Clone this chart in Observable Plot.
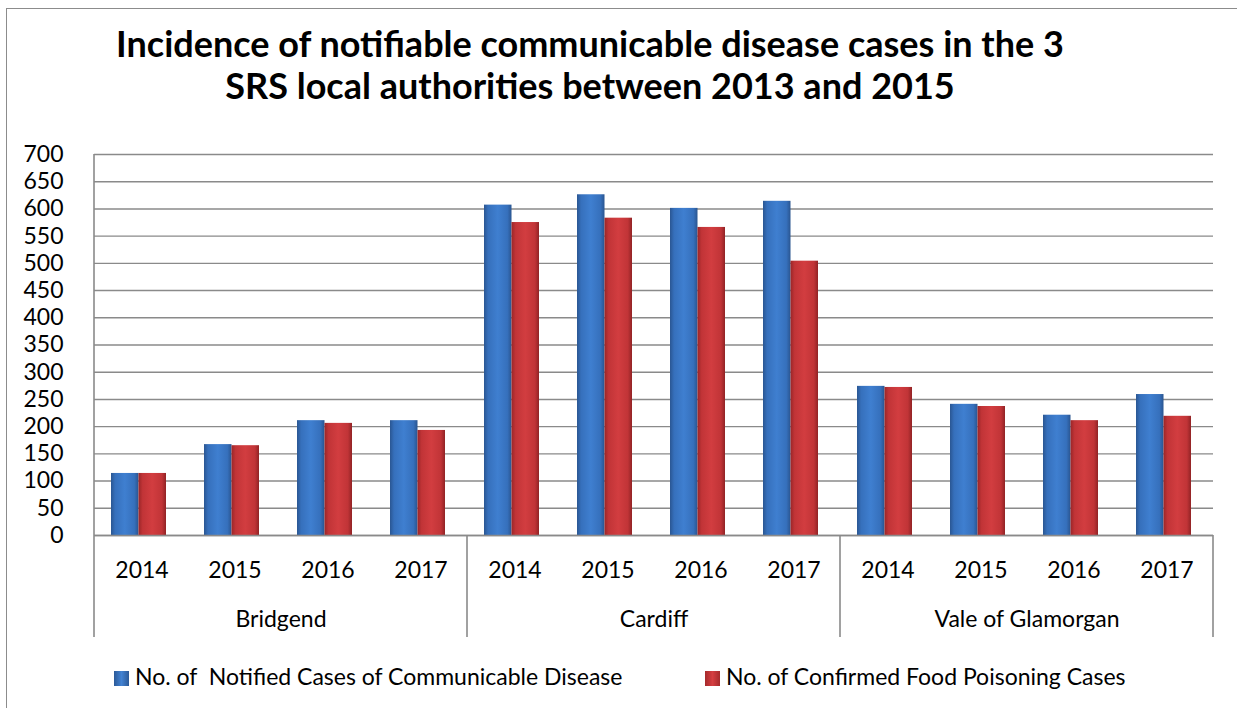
<!DOCTYPE html>
<html>
<head>
<meta charset="utf-8">
<script src="https://cdn.jsdelivr.net/npm/d3@7"></script>
<script src="https://cdn.jsdelivr.net/npm/@observablehq/plot@0.6"></script>
<style>
  body { margin: 0; background: #fff; font-family: Lato, "Open Sans", sans-serif; }
  #wrap { position: relative; width: 1237px; height: 708px; overflow: hidden; background: #fff; }
  #frame { position: absolute; left: 6px; top: 8px; width: 1300px; height: 800px; border: 1.5px solid #8c8c8c; }
  #title { position: absolute; left: 0; top: 22px; width: 1180px; text-align: center; font-weight: bold; font-size: 36px; line-height: 42px; color: #000; }
  #chart { position: absolute; left: 0; top: 140px; }
  .leg { position: absolute; top: 662px; font-size: 23px; line-height: 28px; color: #000; white-space: pre; }
  .sw { display: inline-block; width: 15px; height: 15px; margin-right: 6px; vertical-align: -1px; }
</style>
</head>
<body>
<div id="wrap">
  <div id="frame"></div>
  <div id="title">Incidence of notifiable communicable disease cases in the 3<br>SRS local authorities between 2013 and 2015</div>
  <div id="chart"></div>
  <div class="leg" style="left:114px"><span class="sw" style="background:linear-gradient(to right,#2c5a98,#4282d2 50%,#2c5a98)"></span>No. of  Notified Cases of Communicable Disease</div>
  <div class="leg" style="left:705px"><span class="sw" style="background:linear-gradient(to right,#a52a2c,#d53e41 50%,#a52a2c)"></span>No. of Confirmed Food Poisoning Cases</div>
</div>
<script>
const regions = ["Bridgend", "Cardiff", "Vale of Glamorgan"];
const years = ["2014", "2015", "2016", "2017"];
const seriesNames = ["No. of  Notified Cases of Communicable Disease", "No. of Confirmed Food Poisoning Cases"];
const notified = [114, 167, 211, 211, 607, 626, 601, 614, 274, 241, 221, 259];
const foodPoisoning = [114, 165, 206, 193, 575, 583, 566, 504, 272, 237, 211, 219];
const yTicks = [0, 50, 100, 150, 200, 250, 300, 350, 400, 450, 500, 550, 600, 650, 700];

const rows = [];
regions.forEach((r, i) => years.forEach((y, j) => {
  rows.push({region: r, year: y, series: seriesNames[0], value: notified[i * 4 + j]});
  rows.push({region: r, year: y, series: seriesNames[1], value: foodPoisoning[i * 4 + j]});
}));

const grid = "#8a8a8a";
const plot = Plot.plot({
  width: 1237,
  height: 505,
  marginTop: 14,
  marginBottom: 110,
  marginLeft: 93,
  marginRight: 24,
  fx: {domain: regions, padding: 0, label: null},
  x: {domain: years, paddingInner: 0.41, paddingOuter: 0.205, label: null},
  y: {domain: [0, 700], label: null},
  style: {fontFamily: "Lato, 'Open Sans', sans-serif", fontSize: "23px", color: "#000", background: "transparent"},
  marks: [
    Plot.gridY(yTicks, {stroke: grid, strokeOpacity: 1, strokeWidth: 1.4}),
    Plot.axisY(yTicks, {tickSize: 0, tickPadding: 31, fontSize: 23, fill: "#000"}),
    Plot.axisX({tickSize: 0, tickPadding: 26, fontSize: 23, fill: "#000"}),
    Plot.axisFx({anchor: "bottom", tickSize: 0, tickPadding: 75, fontSize: 23, fill: "#000"}),
    Plot.barY(rows.filter(d => d.series === seriesNames[0]), {fx: "region", x: "year", y: "value", fill: "url(#gBlue)", insetLeft: -3, insetRight: 30.5}),
    Plot.barY(rows.filter(d => d.series === seriesNames[1]), {fx: "region", x: "year", y: "value", fill: "url(#gRed)", insetLeft: 24.5, insetRight: 3}),
    Plot.ruleY([0], {stroke: grid, strokeWidth: 1.6})
  ]
});

const svg = d3.select(plot);
svg.insert("defs", ":first-child").html(`
  <linearGradient id="gBlue" x1="0" x2="1" y1="0" y2="0">
    <stop offset="0" stop-color="#2a5692"/>
    <stop offset="0.15" stop-color="#3670bc"/>
    <stop offset="0.5" stop-color="#3f7fd0"/>
    <stop offset="0.85" stop-color="#3670bc"/>
    <stop offset="1" stop-color="#2a5590"/>
  </linearGradient>
  <linearGradient id="gRed" x1="0" x2="1" y1="0" y2="0">
    <stop offset="0" stop-color="#9a2628"/>
    <stop offset="0.15" stop-color="#c13437"/>
    <stop offset="0.5" stop-color="#d23d40"/>
    <stop offset="0.85" stop-color="#c13437"/>
    <stop offset="1" stop-color="#912325"/>
  </linearGradient>`);

// group separators below the axis, placed with the fx scale (range already includes the left margin)
const fx = plot.scale("fx");
const yBase = 505 - 110;
const edges = regions.map(r => fx.apply(r)).concat([fx.apply(regions[regions.length - 1]) + fx.bandwidth]);
svg.append("g").selectAll("line").data(edges).join("line")
  .attr("x1", d => d).attr("x2", d => d)
  .attr("y1", (d, i) => i === 0 ? 14 : yBase).attr("y2", yBase + 102)
  .attr("stroke", grid).attr("stroke-width", 1.6);

document.getElementById("chart").appendChild(plot);
</script>
</body>
</html>
